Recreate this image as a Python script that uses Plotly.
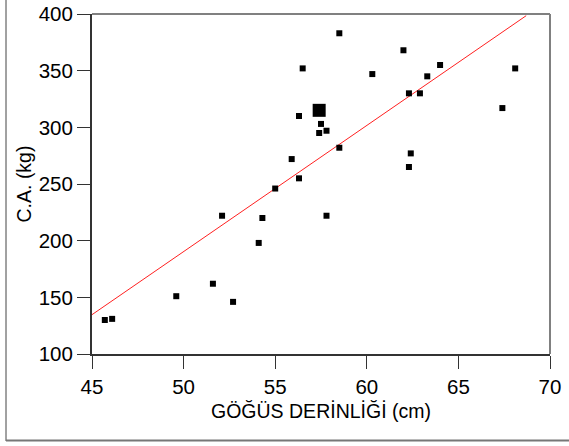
import plotly.graph_objects as go

# Data
x_vals = [58.5, 62.0, 64.0, 68.1, 56.5, 60.3, 63.3, 62.3, 62.9, 67.4,
          56.3, 57.5, 57.4, 57.8, 58.5, 55.9, 62.4, 62.3, 56.3, 55.0,
          52.1, 54.3, 57.8, 54.1, 51.6, 49.6, 52.7, 45.7, 46.1]
y_vals = [383, 368, 355, 352, 352, 347, 345, 330, 330, 317,
          310, 303, 295, 297, 282, 272, 277, 265, 255, 246,
          222, 220, 222, 198, 162, 151, 146, 130, 131]
big_x = [57.4]
big_y = [315]
fit_x = [45.0, 68.7]
fit_y = [134.7, 398.5]
x_ticks = [45, 50, 55, 60, 65, 70]
y_ticks = [100, 150, 200, 250, 300, 350, 400]

FONT = "Liberation Sans, Arial, sans-serif"

fig = go.Figure()
fig.add_trace(go.Scatter(x=fit_x, y=fit_y, mode="lines",
                         line=dict(color="#ff2020", width=1), showlegend=False,
                         hoverinfo="skip"))
fig.add_trace(go.Scatter(x=x_vals, y=y_vals, mode="markers",
                         marker=dict(symbol="square", size=6, color="black",
                                     line=dict(width=0)), showlegend=False))
fig.add_trace(go.Scatter(x=big_x, y=big_y, mode="markers",
                         marker=dict(symbol="square", size=13, color="black",
                                     line=dict(width=0)), showlegend=False))

L, R, T, B = 92, 19, 14, 92
W, H = 569, 446
pw, ph = W - L - R, H - T - B

def px(xp):
    return (xp - L) / pw

def py(yp):
    return (H - B - yp) / ph

shapes = [
    dict(type="line", xref="paper", yref="paper", x0=0, x1=1, y0=1, y1=1,
         line=dict(color="#808080", width=2)),
    dict(type="line", xref="paper", yref="paper", x0=1, x1=1, y0=0, y1=1,
         line=dict(color="#808080", width=2)),
    dict(type="line", xref="paper", yref="paper", x0=px(6), x1=px(6),
         y0=py(0), y1=py(441), line=dict(color="#444444", width=1)),
    dict(type="line", xref="paper", yref="paper", x0=px(6), x1=px(569),
         y0=py(440.5), y1=py(440.5), line=dict(color="#777777", width=2)),
]

fig.update_layout(
    width=W, height=H,
    margin=dict(l=L, r=R, t=T, b=B, autoexpand=False),
    paper_bgcolor="white", plot_bgcolor="white",
    font=dict(family=FONT, size=20, color="black"),
    shapes=shapes,
    xaxis=dict(range=[45, 70], tickvals=x_ticks, ticks="outside", ticklen=13,
               tickwidth=1, tickcolor="#333333", showline=True,
               linecolor="#333333", linewidth=2, showgrid=False, zeroline=False,
               automargin=False,
               tickfont=dict(size=20.5, family=FONT),
               title=dict(text="GÖĞÜS DERİNLİĞİ (cm)", standoff=8,
                          font=dict(size=19.5, family=FONT))),
    yaxis=dict(range=[100, 400], tickvals=y_ticks, ticks="outside", ticklen=13,
               tickwidth=1, tickcolor="#333333", showline=True,
               linecolor="#333333", linewidth=2, showgrid=False, zeroline=False,
               automargin=False,
               tickfont=dict(size=20.5, family=FONT),
               title=dict(text="C.A. (kg)", standoff=2,
                          font=dict(size=19.5, family=FONT))),
)

fig.write_html("out.html")
